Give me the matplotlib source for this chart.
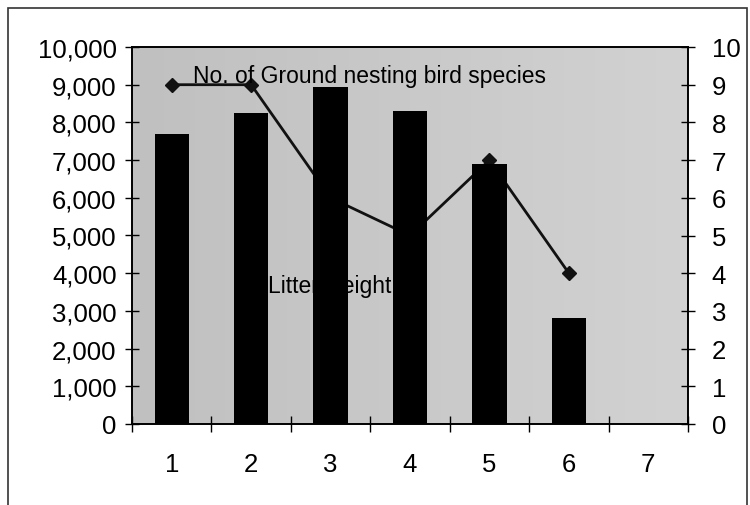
import numpy as np
import matplotlib
matplotlib.use("Agg")
import matplotlib.pyplot as plt
from matplotlib.ticker import FuncFormatter, FixedLocator
from matplotlib.patches import Rectangle

plt.rcParams['font.family'] = ['Liberation Sans', 'DejaVu Sans']

# data
categories = ['1', '2', '3', '4', '5', '6', '7']
litter_weight = [7700, 8250, 8950, 8300, 6900, 2800]   # left axis
bird_species = [9, 9, 6, 5, 7, 4]                      # right axis
left_ticks = [0, 1000, 2000, 3000, 4000, 5000, 6000, 7000, 8000, 9000, 10000]
right_ticks = [0, 1, 2, 3, 4, 5, 6, 7, 8, 9, 10]

fig = plt.figure(figsize=(7.5, 5.06), dpi=100)
fig.patch.set_facecolor('white')

# plot area in pixels: x 132..688, y 48..425
l, r, t, b = 132 / 750, 688 / 750, 48 / 506, 425 / 506
ax2 = fig.add_axes([l, 1 - b, r - l, b - t])   # bottom layer: background + line
ax = fig.add_axes([l, 1 - b, r - l, b - t], sharex=ax2)  # top layer: bars
ax.patch.set_visible(False)

x = np.arange(len(categories))
xs = x[:len(litter_weight)]

# background with a soft grey gradient
grad = np.linspace(0.0, 1.0, 256).reshape(1, -1)
ax2.imshow(grad, cmap=matplotlib.colors.LinearSegmentedColormap.from_list(
    'bg', ['#c0c0c0', '#d2d2d2']), aspect='auto',
    extent=[0, 1, 0, 1], transform=ax2.transAxes, zorder=0)

ax2.plot(xs, bird_species, color='#111111', lw=2, marker='D', ms=7,
         zorder=2)
ax2.set_ylim(0, 10)
ax2.set_xlim(-0.5, len(categories) - 0.5)

# bars on top layer (they hide the line where they overlap)
ax.text(0.245, 0.350, 'Litter weight', transform=ax.transAxes,
        fontsize=16.5, va='baseline', ha='left', zorder=1)
ax.bar(xs, litter_weight, width=0.43, color='black', zorder=2)
ax.text(0.110, 0.907, 'No. of Ground nesting bird species',
        transform=ax.transAxes, fontsize=16.5, va='baseline', ha='left',
        zorder=3)
ax.set_ylim(0, 10000)
ax.set_xlim(-0.5, len(categories) - 0.5)

# left axis ticks / labels
ax.yaxis.tick_left()
ax.set_yticks(left_ticks)
ax.yaxis.set_major_formatter(FuncFormatter(lambda v, p: '{:,.0f}'.format(v)))
ax.tick_params(axis='y', direction='inout', length=10, width=1,
               labelsize=18.5, pad=6, left=True, right=False)

# right axis
ax2.yaxis.tick_right()
ax2.set_yticks(right_ticks)
ax2.tick_params(axis='y', direction='inout', length=10, width=1,
                labelsize=18.5, pad=12, left=False, right=True,
                labelleft=False, labelright=True)

# x axis: labels in the middle, ticks on category boundaries
ax.set_xticks(x)
ax.set_xticklabels(categories)
ax.tick_params(axis='x', length=0, labelsize=18.5, pad=20)
ax.xaxis.set_minor_locator(FixedLocator(np.arange(-0.5, len(categories), 1)))
ax.tick_params(axis='x', which='minor', direction='inout', length=12,
               width=1)
ax2.tick_params(axis='x', which='both', bottom=False, labelbottom=False)

for a in (ax, ax2):
    for s in a.spines.values():
        s.set_color('black')
        s.set_linewidth(1.2)

# outer chart frame
fig.patches.append(Rectangle((8 / 750, -0.1), (747 - 8) / 750, 1.1 - 9 / 506,
                             transform=fig.transFigure, fill=False,
                             edgecolor='#333333', lw=1.2))

fig.savefig('out.png', dpi=100)
